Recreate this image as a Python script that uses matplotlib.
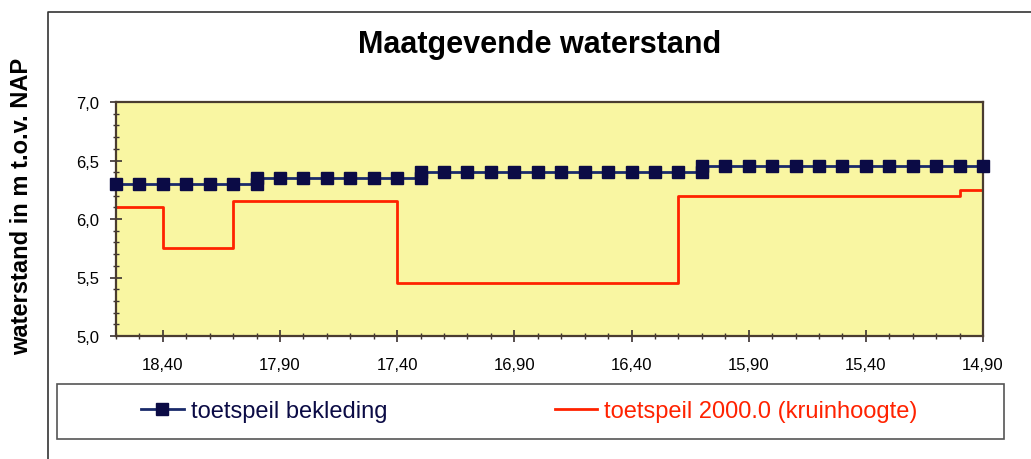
import matplotlib
matplotlib.use("Agg")
import matplotlib.pyplot as plt
from matplotlib.ticker import MultipleLocator, FixedLocator, FuncFormatter
from matplotlib.lines import Line2D
from matplotlib.patches import Rectangle

plt.rcParams['font.family'] = ['Liberation Sans', 'DejaVu Sans']

# dijkpaal (km) en toetspeil bekleding, dubbele punten bij sprongen
km_bekleding = [18.6, 18.5, 18.4, 18.3, 18.2, 18.1, 18.0, 18.0, 17.9, 17.8,
                17.7, 17.6, 17.5, 17.4, 17.3, 17.3, 17.2, 17.1, 17.0, 16.9,
                16.8, 16.7, 16.6, 16.5, 16.4, 16.3, 16.2, 16.1, 16.1, 16.0,
                15.9, 15.8, 15.7, 15.6, 15.5, 15.4, 15.3, 15.2, 15.1, 15.0,
                14.9]
toetspeil_bekleding = [6.30, 6.30, 6.30, 6.30, 6.30, 6.30, 6.30, 6.35, 6.35, 6.35,
                       6.35, 6.35, 6.35, 6.35, 6.35, 6.40, 6.40, 6.40, 6.40, 6.40,
                       6.40, 6.40, 6.40, 6.40, 6.40, 6.40, 6.40, 6.40, 6.45, 6.45,
                       6.45, 6.45, 6.45, 6.45, 6.45, 6.45, 6.45, 6.45, 6.45, 6.45,
                       6.45]

# kruinhoogte: trapfunctie (waarde geldt vanaf km tot volgende km)
km_kruin = [18.6, 18.4, 18.1, 17.4, 16.2, 15.0, 14.9]
toetspeil_kruin = [6.10, 5.75, 6.15, 5.45, 6.20, 6.25, 6.25]

x_ticks = [18.4, 17.9, 17.4, 16.9, 16.4, 15.9, 15.4, 14.9]

navy = '#0b0b45'
rood = '#ff2200'

fig = plt.figure(figsize=(10.31, 4.6), dpi=100)
ax = fig.add_axes([116 / 1031, 1 - 337 / 460, 867 / 1031, 234 / 460])
ax.set_facecolor('#f9f6a2')

ax.step(km_kruin, toetspeil_kruin, where='post', color=rood, lw=2, zorder=2)
ax.plot(km_bekleding, toetspeil_bekleding, color='#1a2a6a', lw=2,
        marker='s', ms=8.5, mfc=navy, mec=navy, zorder=3, clip_on=False)

ax.set_xlim(18.6, 14.9)
ax.set_ylim(5.0, 7.0)

ax.xaxis.set_major_locator(FixedLocator(x_ticks))
ax.xaxis.set_minor_locator(MultipleLocator(0.1))
ax.yaxis.set_major_locator(MultipleLocator(0.5))
ax.yaxis.set_minor_locator(MultipleLocator(0.1))
ax.xaxis.set_major_formatter(FuncFormatter(lambda v, p: f"{v:.2f}".replace('.', ',')))
ax.yaxis.set_major_formatter(FuncFormatter(lambda v, p: f"{v:.1f}".replace('.', ',')))

ax.tick_params(which='major', direction='inout', length=8, width=1.2,
               color='#3a3030', labelsize=12, pad=8)
ax.tick_params(which='minor', direction='inout', length=4, width=1,
               color='#3a3030')
ax.tick_params(axis='x', which='major', pad=11)
for s in ax.spines.values():
    s.set_color('#4a3c30')
    s.set_linewidth(1.6)

fig.text(540 / 1031, 1 - 45 / 460, "Maatgevende waterstand", ha='center', va='center',
         fontsize=22, fontweight='bold')
fig.text(22 / 1031, 1 - 206 / 460, "waterstand in m t.o.v. NAP", ha='center', va='center',
         rotation=90, fontsize=17, fontweight='bold')

# buitenkader
fig.add_artist(Line2D([48 / 1031, 48 / 1031, 1.0], [0.0, 1 - 13 / 460, 1 - 13 / 460],
                      transform=fig.transFigure, color='#333333', lw=1.2))

# legenda kader
fig.add_artist(Rectangle((57 / 1031, 1 - 440 / 460), 947 / 1031, 55 / 460,
                         transform=fig.transFigure, fill=False, ec='#555555', lw=1.2))

h1 = Line2D([], [], color='#1a2a6a', lw=2, marker='s', ms=8, mfc=navy, mec=navy)
h2 = Line2D([], [], color=rood, lw=2)
fig.legend([h1, h2], ["toetspeil bekleding", "toetspeil 2000.0 (kruinhoogte)"],
           loc='center left', bbox_to_anchor=(141 / 1031, 1 - 412 / 460),
           ncol=2, frameon=False, fontsize=17, borderpad=0, borderaxespad=0,
           handlelength=1.8, handletextpad=0.3, columnspacing=7.1,
           labelcolor=[navy, rood])

fig.savefig("out.png", dpi=100)
